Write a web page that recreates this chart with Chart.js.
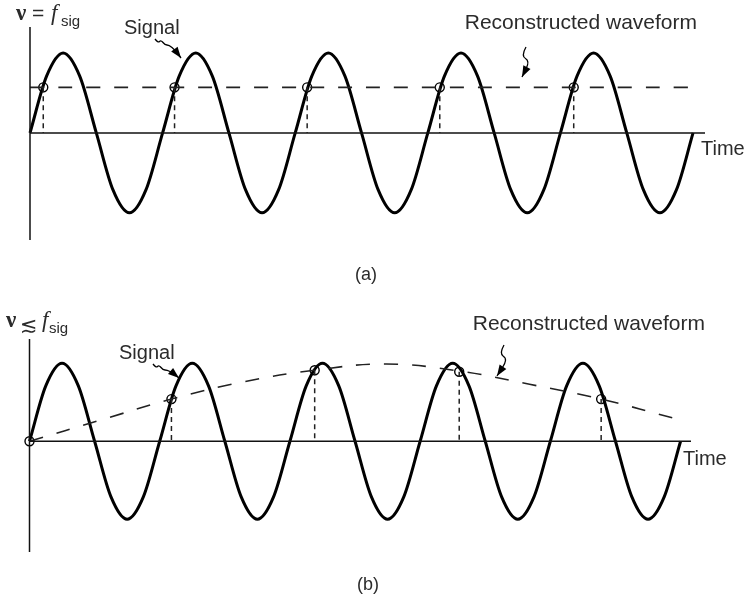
<!DOCTYPE html>
<html lang="en">
<head>
  <meta charset="UTF-8" />
  <title>Sampling at the signal frequency</title>
  <script src="https://cdn.jsdelivr.net/npm/chart.js"></script>
  <style>
    body { margin: 0; background: #fff; width: 748px; height: 595px; overflow: hidden; position: relative; }
    canvas { position: absolute; left: 0; }
    #chartA { top: 0; }
    #chartB { top: 300px; }
  </style>
</head>
<body>
  <canvas id="chartA" width="748" height="300"></canvas>
  <canvas id="chartB" width="748" height="295"></canvas>

  <script>
    // time in signal periods, amplitude in signal amplitudes
    const signalTime = [
      0, 0.125, 0.25, 0.375, 0.5, 0.625, 0.75, 0.875,
      1, 1.125, 1.25, 1.375, 1.5, 1.625, 1.75, 1.875,
      2, 2.125, 2.25, 2.375, 2.5, 2.625, 2.75, 2.875,
      3, 3.125, 3.25, 3.375, 3.5, 3.625, 3.75, 3.875,
      4, 4.125, 4.25, 4.375, 4.5, 4.625, 4.75, 4.875,
      5
    ];
    const signalA = [
      0, 0.71, 1, 0.71, 0, -0.71, -1, -0.71,
      0, 0.71, 1, 0.71, 0, -0.71, -1, -0.71,
      0, 0.71, 1, 0.71, 0, -0.71, -1, -0.71,
      0, 0.71, 1, 0.71, 0, -0.71, -1, -0.71,
      0, 0.71, 1, 0.71, 0, -0.71, -1, -0.71,
      0
    ];
    const signalB = [
      0, 0.71, 1, 0.71, 0, -0.71, -1, -0.71,
      0, 0.71, 1, 0.71, 0, -0.71, -1, -0.71,
      0, 0.71, 1, 0.71, 0, -0.71, -1, -0.71,
      0, 0.71, 1, 0.71, 0, -0.71, -1, -0.71,
      0, 0.71, 1, 0.71, 0, -0.71, -1, -0.71,
      0
    ];

    // (a) sampled once per period
    const sampleTimeA = [0.1, 1.09, 2.09, 3.09, 4.1];
    const sampleValueA = [0.57, 0.57, 0.57, 0.57, 0.57];
    const reconTimeA = [0, 4.99];
    const reconValueA = [0.57, 0.57];

    // (b) sampled slightly slower than the signal
    const sampleTimeB = [0, 1.09, 2.19, 3.3, 4.39];
    const sampleValueB = [0, 0.54, 0.91, 0.89, 0.54];
    const reconTimeB = [0, 0.545, 1.09, 1.64, 2.19, 2.74, 3.3, 3.84, 4.39, 4.98];
    const reconValueB = [0, 0.27, 0.54, 0.76, 0.91, 0.99, 0.9, 0.73, 0.54, 0.28];

    const rangeA = { xMax: 5.09, yMin: -1.34, yMax: 1.325 };
    const rangeB = { xMax: 5.08, yMin: -1.42, yMax: 1.31 };

    const INK = '#111';
    const TEXT = '#2b2b2b';
    const SANS = '"Liberation Sans", Arial, sans-serif';
    const SERIF = '"Liberation Serif", "DejaVu Serif", serif';

    const pts = (xs, ys) => xs.map((x, i) => ({ x, y: ys[i] }));
    const drops = (xs, ys) => xs.flatMap((x, i) => [{ x, y: ys[i] }, { x, y: 0 }, { x, y: null }]);

    const buildDatasets = (range, sigT, sig, sT, sV, rT, rV) => [
      { data: [{ x: 0, y: range.yMin }, { x: 0, y: range.yMax }], borderColor: INK, borderWidth: 1.5 },
      { data: [{ x: 0, y: 0 }, { x: range.xMax, y: 0 }], borderColor: INK, borderWidth: 1.5 },
      { data: pts(rT, rV), borderColor: '#222', borderWidth: 1.6, borderDash: [14, 14], tension: 0.4 },
      { data: drops(sT, sV), borderColor: '#222', borderWidth: 1.5, borderDash: [5, 4], spanGaps: false },
      { data: pts(sigT, sig), borderColor: '#000', borderWidth: 3, cubicInterpolationMode: 'monotone' },
      { data: pts(sT, sV), showLine: false, pointRadius: 4.5, pointBorderWidth: 1.4,
        pointBorderColor: '#000', pointBackgroundColor: 'rgba(0,0,0,0)' }
    ];

    // small text helpers for the annotation plugin
    const text = (ctx, str, x, y, font, align = 'left') => {
      ctx.font = font;
      ctx.textAlign = align;
      ctx.textBaseline = 'alphabetic';
      ctx.fillStyle = TEXT;
      ctx.fillText(str, x, y);
    };

    const squiggleArrow = (ctx, p) => {
      ctx.save();
      ctx.strokeStyle = '#000';
      ctx.fillStyle = '#000';
      ctx.lineWidth = 1.3;
      ctx.beginPath();
      ctx.moveTo(p[0][0], p[0][1]);
      for (let i = 1; i < p.length - 1; i++) {
        const mx = (p[i][0] + p[i + 1][0]) / 2, my = (p[i][1] + p[i + 1][1]) / 2;
        ctx.quadraticCurveTo(p[i][0], p[i][1], mx, my);
      }
      const [x1, y1] = p[p.length - 2], [x2, y2] = p[p.length - 1];
      ctx.lineTo(x2, y2);
      ctx.stroke();
      const a = Math.atan2(y2 - y1, x2 - x1);
      ctx.beginPath();
      ctx.moveTo(x2, y2);
      ctx.lineTo(x2 - 11 * Math.cos(a) + 4 * Math.sin(a), y2 - 11 * Math.sin(a) - 4 * Math.cos(a));
      ctx.lineTo(x2 - 11 * Math.cos(a) - 4 * Math.sin(a), y2 - 11 * Math.sin(a) + 4 * Math.cos(a));
      ctx.closePath();
      ctx.fill();
      ctx.restore();
    };

    const notesA = {
      id: 'notesA',
      afterDraw(chart) {
        const ctx = chart.ctx;
        text(ctx, 'ν', 16, 20, 'bold 23px ' + SERIF);
        text(ctx, '=', 32, 20, '21px ' + SANS);
        text(ctx, 'f', 51, 20, 'italic 23px ' + SERIF);
        text(ctx, 'sig', 61, 26, '15px ' + SANS);
        text(ctx, 'Signal', 124, 34, '20px ' + SANS);
        text(ctx, 'Reconstructed waveform', 697, 29, '21px ' + SANS, 'right');
        text(ctx, 'Time', 701, 155, '20px ' + SANS);
        text(ctx, '(a)', 366, 280, '18px ' + SANS, 'center');
        squiggleArrow(ctx, [[155, 39], [158, 43], [161, 40], [165, 45], [169, 45], [175, 50], [181, 58]]);
        squiggleArrow(ctx, [[526, 47], [521, 56], [530, 61], [522, 77]]);
      }
    };

    const notesB = {
      id: 'notesB',
      afterDraw(chart) {
        const ctx = chart.ctx;
        const o = 300;
        text(ctx, 'ν', 6, 327 - o, 'bold 23px ' + SERIF);
        text(ctx, '≲', 20, 332 - o, '21px "DejaVu Sans", sans-serif');
        text(ctx, 'f', 42, 327 - o, 'italic 23px ' + SERIF);
        text(ctx, 'sig', 49, 333 - o, '15px ' + SANS);
        text(ctx, 'Signal', 119, 359 - o, '20px ' + SANS);
        text(ctx, 'Reconstructed waveform', 705, 330 - o, '21px ' + SANS, 'right');
        text(ctx, 'Time', 683, 465 - o, '20px ' + SANS);
        text(ctx, '(b)', 368, 590 - o, '18px ' + SANS, 'center');
        squiggleArrow(ctx, [[153, 364 - o], [156, 368 - o], [159, 365 - o], [163, 370 - o], [167, 370 - o], [173, 373 - o], [179, 378 - o]]);
        squiggleArrow(ctx, [[504, 345 - o], [499, 354 - o], [508, 359 - o], [497, 376 - o]]);
      }
    };

    const makeChart = (id, range, datasets, padding, plugin) => new Chart(document.getElementById(id), {
      type: 'line',
      data: { datasets: datasets.map(d => ({ pointRadius: 0, clip: false, fill: false, ...d })) },
      options: {
        responsive: false,
        animation: false,
        devicePixelRatio: 1,
        layout: { padding },
        plugins: { legend: { display: false }, tooltip: { enabled: false } },
        scales: {
          x: { type: 'linear', min: 0, max: range.xMax, display: false },
          y: { type: 'linear', min: range.yMin, max: range.yMax, display: false }
        }
      },
      plugins: [plugin]
    });

    makeChart('chartA', rangeA,
      buildDatasets(rangeA, signalTime, signalA, sampleTimeA, sampleValueA, reconTimeA, reconValueA),
      { left: 30, right: 43, top: 27, bottom: 60 }, notesA);

    makeChart('chartB', rangeB,
      buildDatasets(rangeB, signalTime, signalB, sampleTimeB, sampleValueB, reconTimeB, reconValueB),
      { left: 29.5, right: 57, top: 39, bottom: 43 }, notesB);
  </script>
</body>
</html>
